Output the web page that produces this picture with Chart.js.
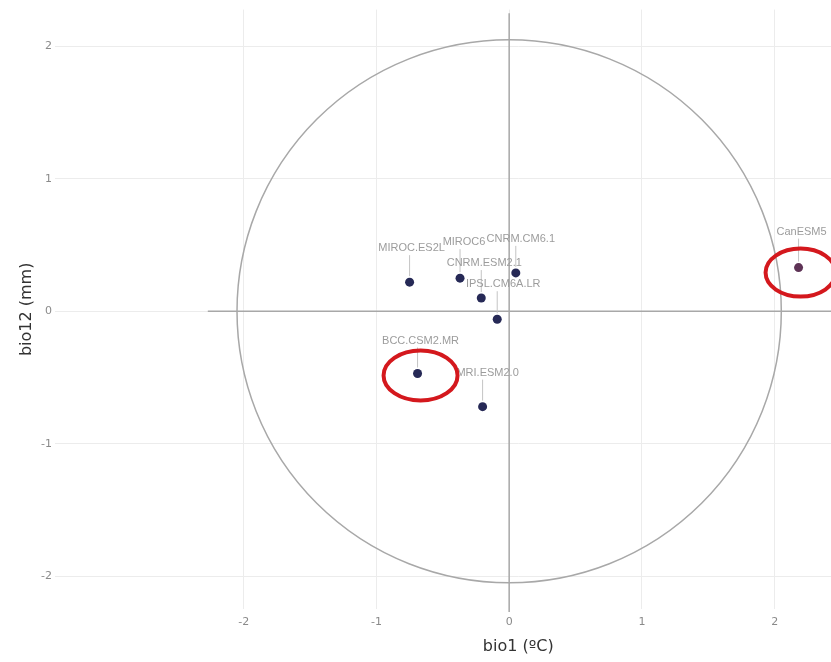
<!DOCTYPE html>
<html>
<head>
<meta charset="utf-8">
<script src="https://cdn.jsdelivr.net/npm/chart.js@4.4.1/dist/chart.umd.min.js"></script>
<style>
html, body { margin: 0; padding: 0; background: #fff; }
#wrap { width: 831px; height: 662px; overflow: hidden; }
</style>
</head>
<body>
<div id="wrap"><canvas id="myChart" width="986" height="662"></canvas></div>
<script>
// datos
const modelos = ["MIROC.ES2L", "MIROC6", "CNRM.CM6.1", "CNRM.ESM2.1", "IPSL.CM6A.LR", "BCC.CSM2.MR", "MRI.ESM2.0", "CanESM5"];
const bio1 = [-0.75, -0.37, 0.05, -0.21, -0.09, -0.69, -0.20, 2.18];
const bio12 = [0.22, 0.25, 0.29, 0.10, -0.06, -0.47, -0.72, 0.33];
const destacados = ["BCC.CSM2.MR", "CanESM5"];
const ticksX = [-2, -1, 0, 1, 2];
const ticksY = [-2, -1, 0, 1, 2];
const radioCirculo = 2.05;
const lineaH = [-2.27, 2.6];
const lineaV = [-2.27, 2.25];

// desplazamiento de etiquetas en px (estilo)
const offsetEtiqueta = {
    "MIROC.ES2L": [2, -34],
    "MIROC6": [4, -36],
    "CNRM.CM6.1": [5, -34],
    "CNRM.ESM2.1": [3, -35],
    "IPSL.CM6A.LR": [6, -35],
    "BCC.CSM2.MR": [3, -33],
    "MRI.ESM2.0": [5, -34],
    "CanESM5": [3, -36]
};
const elipseRoja = {
    "BCC.CSM2.MR": { dx: 3, dy: 2, rx: 37, ry: 25 },
    "CanESM5": { dx: 2, dy: 5, rx: 35, ry: 24 }
};

const circuloPlugin = {
    id: 'circulo',
    beforeDatasetsDraw(chart) {
        const { ctx, scales: { x, y } } = chart;
        const cx = x.getPixelForValue(0);
        const cy = y.getPixelForValue(0);
        const rx = x.getPixelForValue(radioCirculo) - cx;
        const ry = cy - y.getPixelForValue(radioCirculo);
        ctx.save();
        ctx.strokeStyle = '#a8a8a8';
        ctx.lineWidth = 1.5;
        ctx.beginPath();
        ctx.ellipse(cx, cy, rx, ry, 0, 0, Math.PI * 2);
        ctx.stroke();
        ctx.beginPath();
        ctx.moveTo(x.getPixelForValue(lineaH[0]), cy);
        ctx.lineTo(x.getPixelForValue(lineaH[1]), cy);
        ctx.moveTo(cx, y.getPixelForValue(lineaV[0]));
        ctx.lineTo(cx, y.getPixelForValue(lineaV[1]));
        ctx.stroke();
        ctx.restore();
    }
};

const etiquetasPlugin = {
    id: 'etiquetas',
    afterDatasetsDraw(chart) {
        const ctx = chart.ctx;
        const meta = chart.getDatasetMeta(0);
        ctx.save();
        ctx.font = '11px "Liberation Sans", Arial, sans-serif';
        ctx.textAlign = 'center';
        ctx.textBaseline = 'middle';
        meta.data.forEach((p, i) => {
            const nombre = modelos[i];
            const off = offsetEtiqueta[nombre];
            const lx = p.x + off[0];
            const ly = p.y + off[1];
            ctx.strokeStyle = '#c4c4c4';
            ctx.lineWidth = 1;
            ctx.beginPath();
            ctx.moveTo(p.x, ly + 7);
            ctx.lineTo(p.x, p.y - 6);
            ctx.stroke();
            ctx.fillStyle = '#9c9c9c';
            ctx.fillText(nombre, lx, ly);
        });
        // marcas rojas
        ctx.strokeStyle = '#d4181d';
        ctx.lineWidth = 4;
        meta.data.forEach((p, i) => {
            const e = elipseRoja[modelos[i]];
            if (!e) return;
            ctx.beginPath();
            ctx.ellipse(p.x + e.dx, p.y + e.dy, e.rx, e.ry, 0, 0, Math.PI * 2);
            ctx.stroke();
        });
        ctx.restore();
    }
};

const puntos = bio1.map((v, i) => ({ x: v, y: bio12[i] }));
const colores = modelos.map(m => m === "CanESM5" ? '#5e3356' : '#262956');

const ctx = document.querySelector("#myChart").getContext("2d");
new Chart(ctx, {
    type: 'scatter',
    data: {
        datasets: [{
            data: puntos,
            backgroundColor: colores,
            borderWidth: 0,
            pointRadius: 4.5
        }]
    },
    options: {
        responsive: false,
        animation: false,
        layout: { padding: { top: 7, right: 1, left: 0, bottom: 0 } },
        plugins: {
            legend: { display: false },
            tooltip: { enabled: false }
        },
        scales: {
            x: {
                type: 'linear',
                min: -3.421,
                max: 3.558,
                afterBuildTicks: (s) => { s.ticks = ticksX.map(v => ({ value: v })); },
                afterFit: (s) => { s.height = 53; },
                grid: { color: '#ececec', drawTicks: false },
                border: { display: false },
                ticks: {
                    color: '#8a8a8a',
                    padding: 7,
                    font: { family: '"DejaVu Sans", Verdana, sans-serif', size: 11 }
                },
                title: {
                    display: true,
                    text: 'bio1 (ºC)',
                    color: '#333',
                    font: { family: '"DejaVu Sans", Verdana, sans-serif', size: 16 },
                    padding: { top: 0, bottom: 6 }
                }
            },
            y: {
                type: 'linear',
                min: -2.248,
                max: 2.278,
                afterBuildTicks: (s) => { s.ticks = ticksY.map(v => ({ value: v })); },
                afterFit: (s) => { s.width = 55; },
                grid: { color: '#ececec', drawTicks: false },
                border: { display: false },
                ticks: {
                    color: '#8a8a8a',
                    padding: 3,
                    font: { family: '"DejaVu Sans", Verdana, sans-serif', size: 11 }
                },
                title: {
                    display: true,
                    text: 'bio12 (mm)',
                    color: '#333',
                    font: { family: '"DejaVu Sans", Verdana, sans-serif', size: 16 },
                    padding: { top: 17, bottom: 0 }
                }
            }
        }
    },
    plugins: [circuloPlugin, etiquetasPlugin]
});
</script>
</body>
</html>
